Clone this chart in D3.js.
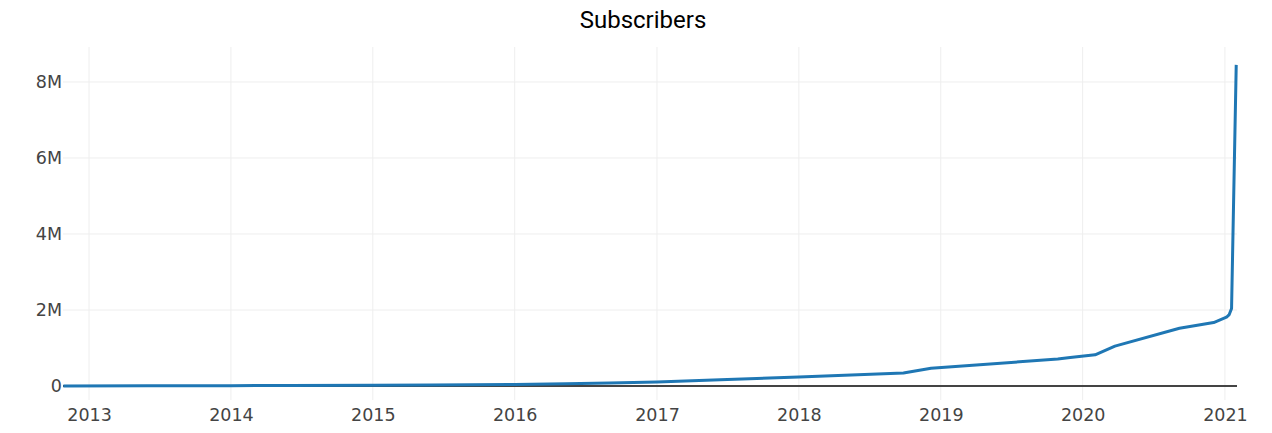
<!DOCTYPE html>
<html>
<head>
<meta charset="utf-8">
<script src="https://cdn.jsdelivr.net/npm/d3@7"></script>
<style>
  html, body { margin: 0; padding: 0; background: #fff; }
  svg { display: block; }
</style>
</head>
<body>
<svg id="chart" width="1272" height="433"></svg>
<script>
const title = "Subscribers";
const dates = [
  "2012-10-27","2013-06-01","2014-01-01","2014-06-01","2015-01-01","2015-06-01",
  "2016-01-01","2016-05-12","2016-09-01","2017-01-01","2017-07-01","2018-01-01",
  "2018-09-27","2018-12-07","2019-10-29","2019-11-30",
  "2020-02-02","2020-03-24","2020-09-06","2020-12-03","2021-01-05","2021-01-12",
  "2021-01-18","2021-01-30"
];
const subscribers = [
  3000, 6000, 10000, 15000, 20000, 28000,
  40000, 60000, 80000, 108000, 170000, 240000,
  340000, 470000, 710000, 750000,
  820000, 1050000, 1520000, 1670000, 1810000, 1880000,
  2040000, 8450000
];
const yTicks = [0, 2000000, 4000000, 6000000, 8000000];
const yTickLabels = ["0", "2M", "4M", "6M", "8M"];
const xTickYears = [2013, 2014, 2015, 2016, 2017, 2018, 2019, 2020, 2021];

const svg = d3.select("#chart");
const plotLeft = 63, plotRight = 1237, plotTop = 47, plotBottom = 400;

const parse = d3.utcParse("%Y-%m-%d");
const data = dates.map((d, i) => ({ date: parse(d), value: subscribers[i] }));

const x = d3.scaleUtc()
  .domain([parse("2012-10-26"), parse("2021-02-01")])
  .range([plotLeft, plotRight]);
const y = d3.scaleLinear()
  .domain([-368000, 8920000])
  .range([plotBottom, plotTop]);

const fontTick = "'DejaVu Sans', Verdana, sans-serif";

// vertical gridlines
const xTicks = xTickYears.map(yr => new Date(Date.UTC(yr, 0, 1)));
svg.append("g")
  .selectAll("line")
  .data(xTicks)
  .join("line")
  .attr("x1", d => x(d)).attr("x2", d => x(d))
  .attr("y1", plotTop).attr("y2", plotBottom)
  .attr("stroke", "#eee").attr("stroke-width", 1);

// horizontal gridlines
svg.append("g")
  .selectAll("line")
  .data(yTicks.filter(v => v !== 0))
  .join("line")
  .attr("x1", plotLeft).attr("x2", plotRight)
  .attr("y1", d => y(d)).attr("y2", d => y(d))
  .attr("stroke", "#eee").attr("stroke-width", 1);

// zero line
svg.append("line")
  .attr("x1", plotLeft).attr("x2", plotRight)
  .attr("y1", y(0)).attr("y2", y(0))
  .attr("stroke", "#444").attr("stroke-width", 2);

// data line
const line = d3.line()
  .x(d => x(d.date))
  .y(d => y(d.value));
svg.append("path")
  .datum(data)
  .attr("d", line)
  .attr("fill", "none")
  .attr("stroke", "#1f77b4")
  .attr("stroke-width", 3)
  .attr("stroke-linejoin", "round");

// y axis labels
const yAxis = d3.axisLeft(y).tickValues(yTicks)
  .tickFormat((d, i) => yTickLabels[i]).tickSize(0).tickPadding(0);
const gy = svg.append("g").attr("transform", `translate(${plotLeft - 1},0)`).call(yAxis);
gy.select(".domain").remove();
gy.selectAll("text")
  .attr("font-family", fontTick).attr("font-size", 17.5).attr("fill", "#444");

// x axis labels
const xAxis = d3.axisBottom(x).tickValues(xTicks)
  .tickFormat(d3.utcFormat("%Y")).tickSize(0).tickPadding(0);
const gx = svg.append("g").attr("transform", `translate(0,${plotBottom + 9})`).call(xAxis);
gx.select(".domain").remove();
gx.selectAll("text")
  .attr("font-family", fontTick).attr("font-size", 17.5).attr("fill", "#444");

// title
svg.append("text")
  .attr("x", 643).attr("y", 28)
  .attr("text-anchor", "middle")
  .attr("font-family", "Roboto, sans-serif")
  .attr("font-size", 24)
  .attr("fill", "#000")
  .text(title);
</script>
</body>
</html>
